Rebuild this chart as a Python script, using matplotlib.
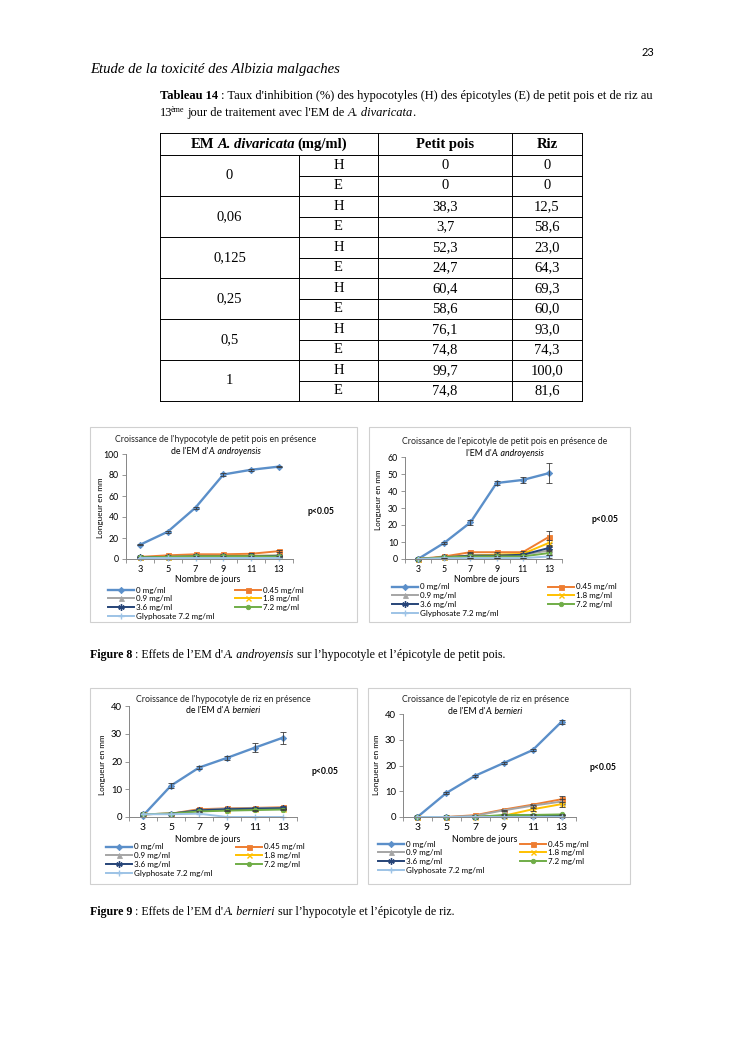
import matplotlib
matplotlib.use('Agg')
import matplotlib.pyplot as plt
from matplotlib.patches import Rectangle

# page text
page_number = '23'
running_head = 'Etude de la toxicité des Albizia malgaches'

# Tableau 14 data
conc = ['0', '0,06', '0,125', '0,25', '0,5', '1']
organ = ['H', 'E']
petit_pois = [0, 0, 38.3, 3.7, 52.3, 24.7, 60.4, 58.6, 76.1, 74.8, 99.7, 74.8]
riz = [0, 0, 12.5, 58.6, 23.0, 64.3, 69.3, 60.0, 93.0, 74.3, 100.0, 81.6]

# chart data: days on x, one list per treatment
days = [3, 5, 7, 9, 11, 13]
labels = ['0 mg/ml', '0.45 mg/ml', '0.9 mg/ml', '1.8 mg/ml', '3.6 mg/ml',
          '7.2 mg/ml', 'Glyphosate 7.2 mg/ml']

hypo_pois = [[13.5, 26, 49, 80.5, 85, 88],
             [2, 3.5, 4.5, 4.5, 5, 7.5],
             [1.5, 2, 3, 3, 3, 3.5],
             [1.5, 2, 2.5, 3, 3, 3],
             [1.5, 2, 2.5, 2.5, 2.5, 3],
             [1.5, 2, 2.5, 2.5, 2.5, 2.5],
             [1, 1, 1, 1, 1, 1]]
hypo_pois_err = [[0.6, 1, 1, 1, 1, 0.8],
                 [0.3, 0.3, 0.4, 0.4, 0.4, 0.6],
                 [0.2, 0.2, 0.3, 0.3, 0.3, 0.3],
                 [0.2, 0.2, 0.3, 0.3, 0.3, 0.3],
                 [0.2, 0.2, 0.3, 0.3, 0.3, 0.3],
                 [0.2, 0.2, 0.3, 0.3, 0.3, 0.3],
                 [0, 0, 0, 0, 0, 0]]

epi_pois = [[0, 9.5, 21.5, 44.7, 46.5, 50.5],
            [0, 1.5, 4, 4, 4, 13],
            [0, 1, 2, 2.5, 2.5, 5],
            [0, 1, 2, 2.5, 3, 9.5],
            [0, 1, 2, 2, 2.5, 6.5],
            [0, 1, 1.5, 1.5, 1.5, 3.5],
            [0, 0.5, 0.5, 0.5, 0.5, 1.5]]
epi_pois_err = [[0.3, 0.5, 1.3, 1, 1.5, 6],
                [0, 0.3, 0.3, 0.3, 0.5, 3.5],
                [0, 0.2, 0.2, 0.3, 0.3, 1],
                [0, 0.2, 0.3, 0.3, 0.3, 1.5],
                [0, 0.2, 0.3, 0.3, 0.3, 1.2],
                [0, 0.2, 0.2, 0.2, 0.2, 1],
                [0, 0, 0, 0, 0, 0.8]]

hypo_riz = [[0.5, 11.3, 17.8, 21.3, 25, 28.6],
            [1, 1.2, 2.8, 3.1, 3.3, 3.5],
            [1, 1.2, 2.5, 3, 3.2, 3.3],
            [1, 1.2, 2.2, 2.5, 2.8, 3],
            [1, 1.2, 2.4, 2.8, 3, 3.2],
            [1, 1.2, 2, 2.3, 2.5, 2.7],
            [1, 1, 1.2, 0, 0, 0]]
hypo_riz_err = [[0.3, 1, 0.4, 0.6, 1.5, 2.2],
                [0, 0.2, 0.3, 0.3, 0.3, 0.3],
                [0, 0.2, 0.3, 0.3, 0.3, 0.3],
                [0, 0.2, 0.2, 0.2, 0.2, 0.2],
                [0, 0.2, 0.2, 0.2, 0.2, 0.2],
                [0, 0.2, 0.2, 0.2, 0.2, 0.2],
                [0, 0, 0, 0, 0, 0]]

epi_riz = [[0, 9.3, 16, 21, 26, 37],
           [0, 0, 0.7, 2.9, 4.8, 6.9],
           [0, 0, 0.5, 2.6, 4.4, 6],
           [0, 0, 0, 0.5, 3, 5],
           [0, 0, 0, 0.5, 0.5, 0.5],
           [0, 0, 0, 0.8, 0.8, 1],
           [0, 0, 0, 0, 0, 0]]
epi_riz_err = [[0, 0.3, 0.3, 0.3, 0.4, 0.7],
               [0, 0, 0.2, 0.3, 0.4, 1.3],
               [0, 0, 0.2, 0.3, 0.4, 0.8],
               [0, 0, 0, 0.2, 0.5, 1],
               [0, 0, 0, 0.1, 0.1, 0.2],
               [0, 0, 0, 0.2, 0.2, 0.3],
               [0, 0, 0, 0, 0, 0]]

colors = ['#5B8FC9', '#EE7D31', '#A5A5A5', '#FFC000', '#264478', '#70AD47', '#9DC3E6']
markers = ['D', 's', '^', 'x', (6, 2, 0), 'o', '+']
msizes = [3.2, 3.6, 3.6, 3.6, 4.6, 3.2, 4]

W, H = 745, 1053
serif = 'Liberation Serif'
sans = 'Lato'

fig = plt.figure(figsize=(W / 100, H / 100), dpi=100)
page = fig.add_axes([0, 0, 1, 1])
page.set_xlim(0, W)
page.set_ylim(H, 0)
page.axis('off')
renderer = fig.canvas.get_renderer()


def width(s, **kw):
    a = page.text(0, 0, '|' + s + '|', **kw)
    b = page.text(0, 0, '||', **kw)
    w = a.get_window_extent(renderer).width - b.get_window_extent(renderer).width
    a.remove()
    b.remove()
    return w


def runs(x, y, parts, size, family, ha='left'):
    # parts: (text, weight, style, size scale, dy px, dx px); y is the baseline
    items = []
    total = 0
    for s, weight, style, sc, dy, dx in parts:
        kw = dict(fontsize=size * sc, family=family, weight=weight, style=style)
        sw = width(' ', **kw)
        core = s.strip(' ')
        lead = (len(s) - len(s.lstrip(' '))) * sw + dx
        trail = (len(s) - len(s.rstrip(' '))) * sw
        w = width(core, **kw)
        items.append((core, kw, lead, w, trail, dy))
        total += lead + w + trail
    if ha == 'center':
        x -= total / 2
    for core, kw, lead, w, trail, dy in items:
        x += lead
        page.text(x, y + dy, core, va='baseline', ha='left', **kw)
        x += w + trail


N = ('normal', 'normal', 1, 0, 0)

# header
page.text(648, 52, page_number, fontsize=8, family=sans, ha='center', va='center')
page.text(90, 70, running_head, fontsize=10.6, family=serif, style='italic', va='center')

# table caption
runs(160, 99, [('Tableau 14', 'bold', 'normal', 1, 0, 0),
               (" : Taux d'inhibition (%) des hypocotyles (H) des épicotyles (E) de petit pois et de riz au",) + N],
     9.0, serif)
runs(160, 116, [('13',) + N, ('ème', 'normal', 'normal', 0.65, -4, -1.5),
                (" jour de traitement avec l'EM de ",) + N,
                ('A. divaricata', 'normal', 'italic', 1, 0, 0), ('.', 'normal', 'normal', 1, 0, -1.5)], 9.0, serif)

# table
cols = [160, 299, 378, 512, 582]
top, head_bot, rh = 133, 155, 20.5
bottom = head_bot + rh * 12
lw = 0.7
for yy in [top, head_bot]:
    page.plot([cols[0], cols[-1]], [yy, yy], color='black', lw=lw)
for g in range(6):
    yg = head_bot + 2 * rh * (g + 1)
    page.plot([cols[0], cols[-1]], [yg, yg], color='black', lw=lw)
    ym = head_bot + 2 * rh * g + rh
    page.plot([cols[1], cols[-1]], [ym, ym], color='black', lw=lw)
for i, xx in enumerate(cols):
    y0 = head_bot if i == 1 else top
    page.plot([xx, xx], [y0, bottom], color='black', lw=lw)

tsize = 10.5
runs((cols[0] + cols[2]) / 2, 148, [('EM ', 'bold', 'normal', 1, 0, 0), ('A. divaricata', 'bold', 'italic', 1, 0, 0),
                                     (' (mg/ml)', 'bold', 'normal', 1, 0, -1)], tsize, serif, ha='center')
page.text((cols[2] + cols[3]) / 2, 148, 'Petit pois', fontsize=tsize, family=serif, weight='bold', ha='center', va='baseline')
page.text((cols[3] + cols[4]) / 2, 148, 'Riz', fontsize=tsize, family=serif, weight='bold', ha='center', va='baseline')


def fmt(v):
    return '0' if v == 0 else f'{v:.1f}'.replace('.', ',')


for g, c in enumerate(conc):
    page.text((cols[0] + cols[1]) / 2, head_bot + 2 * rh * g + rh, c, fontsize=tsize, family=serif,
              ha='center', va='center')
for r in range(12):
    yc = head_bot + rh * (r + 0.5)
    page.text((cols[1] + cols[2]) / 2, yc, organ[r % 2], fontsize=tsize, family=serif, ha='center', va='center')
    page.text((cols[2] + cols[3]) / 2, yc, fmt(petit_pois[r]), fontsize=tsize, family=serif, ha='center', va='center')
    page.text((cols[3] + cols[4]) / 2, yc, fmt(riz[r]), fontsize=tsize, family=serif, ha='center', va='center')


# charts
charts = [
    dict(data=hypo_pois, err=hypo_pois_err, ymax=100, step=20, box=(90, 427, 357, 622),
         plot=(126, 293, 454, 559), t1="Croissance de l'hypocotyle de petit pois en présence",
         t2=("de l'EM d'", 'A. androyensis'), tx=216, ty=(440, 451), p=(321, 512), yl=(101, 508),
         xl=(208, 580), leg=(108, 235, 591), xts=6.6, yts=6.3),
    dict(data=epi_pois, err=epi_pois_err, ymax=60, step=10, box=(369, 427, 630, 622),
         plot=(405, 562, 457, 559), t1="Croissance de l'epicotyle de petit pois en présence de",
         t2=("l'EM d'", 'A. androyensis'), tx=505, ty=(442, 453), p=(605, 519), yl=(378, 500),
         xl=(487, 579), leg=(392, 548, 588), xts=6.3, yts=6.3),
    dict(data=hypo_riz, err=hypo_riz_err, ymax=40, step=10, box=(90, 688, 357, 884),
         plot=(129, 297, 706, 817), t1="Croissance de l'hypocotyle de riz en présence",
         t2=("de l'EM d'", 'A. bernieri'), tx=223, ty=(699, 710), p=(325, 772), yl=(102, 765),
         xl=(208, 840), leg=(106, 236, 848), xts=7.5, yts=6.8),
    dict(data=epi_riz, err=epi_riz_err, ymax=40, step=10, box=(368, 688, 630, 884),
         plot=(403, 576, 714, 817), t1="Croissance de l'epicotyle de riz en présence",
         t2=("de l'EM d'", 'A. bernieri'), tx=485, ty=(700, 711), p=(603, 767), yl=(376, 765),
         xl=(485, 839), leg=(378, 520, 845), xts=7.5, yts=6.8),
]

xs = [i + 0.5 for i in range(len(days))]
for ch in charts:
    bx0, by0, bx1, by1 = ch['box']
    page.add_patch(Rectangle((bx0, by0), bx1 - bx0, by1 - by0, fill=False, edgecolor='#D0D0D0', lw=0.8))
    x0, x1, yt, yb = ch['plot']
    ax = fig.add_axes([x0 / W, 1 - yb / H, (x1 - x0) / W, (yb - yt) / H])
    ax.patch.set_alpha(0)
    handles = []
    for k, vals in enumerate(ch['data']):
        ln, = ax.plot(xs, vals, color=colors[k], marker=markers[k], ms=msizes[k], lw=1.4 if k else 1.7,
                      mew=1 if markers[k] in ('x', '+', (6, 2, 0)) else 0.6, label=labels[k], clip_on=False)
        handles.append(ln)
        if any(ch['err'][k]):
            ax.errorbar(xs, vals, yerr=ch['err'][k], fmt='none', ecolor='#3A3A3A', elinewidth=0.6,
                        capsize=2, capthick=0.6, clip_on=False)
    ax.set_xlim(0, len(days))
    ax.set_ylim(0, ch['ymax'])
    ax.set_xticks(xs, [str(d) for d in days])
    ax.set_xticks(range(len(days) + 1), minor=True)
    ax.set_yticks(range(0, ch['ymax'] + 1, ch['step']))
    ax.tick_params(axis='x', which='major', length=0, pad=4, labelsize=ch['xts'])
    ax.tick_params(axis='x', which='minor', length=3, width=0.6, color='#868686', direction='out')
    ax.tick_params(axis='y', length=3, width=0.6, color='#868686', direction='out', pad=2, labelsize=ch['yts'])
    for lab in ax.get_xticklabels() + ax.get_yticklabels():
        lab.set_family(sans)
    for s in ['top', 'right']:
        ax.spines[s].set_visible(False)
    for s in ['left', 'bottom']:
        ax.spines[s].set_color('#868686')
        ax.spines[s].set_linewidth(0.7)

    page.text(ch['tx'], ch['ty'][0], ch['t1'], fontsize=6.3, family=sans, ha='center', va='center', color='#222222')
    runs(ch['tx'], ch['ty'][1] + 3, [(ch['t2'][0],) + N, (ch['t2'][1], 'normal', 'italic', 1, 0, 0)], 6.3, sans,
         ha='center')
    page.text(ch['p'][0], ch['p'][1], 'p<0.05', fontsize=6.2, family=sans, weight='bold', ha='center', va='center')
    page.text(ch['yl'][0], ch['yl'][1], 'Longueur en mm', fontsize=5.9, family=sans, rotation=90,
              ha='center', va='center')
    page.text(ch['xl'][0], ch['xl'][1], 'Nombre de jours', fontsize=6.4, family=sans, ha='center', va='center')

    lx1, lx2, ly = ch['leg']
    order1 = [0, 2, 4, 6]
    order2 = [1, 3, 5]
    for lx, order in [(lx1, order1), (lx2, order2)]:
        fig.legend([handles[i] for i in order], [labels[i] for i in order], loc='upper left',
                   bbox_to_anchor=(lx / W, 1 - (ly - 4.5) / H), frameon=False, prop={'family': sans, 'size': 5.8},
                   handlelength=3.2, handletextpad=0.3, labelspacing=0.22, borderpad=0, borderaxespad=0)

# figure captions
runs(90, 658, [('Figure 8', 'bold', 'normal', 1, 0, 0), (' : Effets de l\u2019EM d\'',) + N,
               ('A. androyensis', 'normal', 'italic', 1, 0, 0),
               (' sur l\u2019hypocotyle et l\u2019épicotyle de petit pois.',) + N], 8.6, serif)
runs(90, 915, [('Figure 9', 'bold', 'normal', 1, 0, 0), (' : Effets de l\u2019EM d\'',) + N,
               ('A. bernieri', 'normal', 'italic', 1, 0, 0),
               (' sur l\u2019hypocotyle et l\u2019épicotyle de riz.',) + N], 8.6, serif)

fig.savefig('out.png', dpi=100)
